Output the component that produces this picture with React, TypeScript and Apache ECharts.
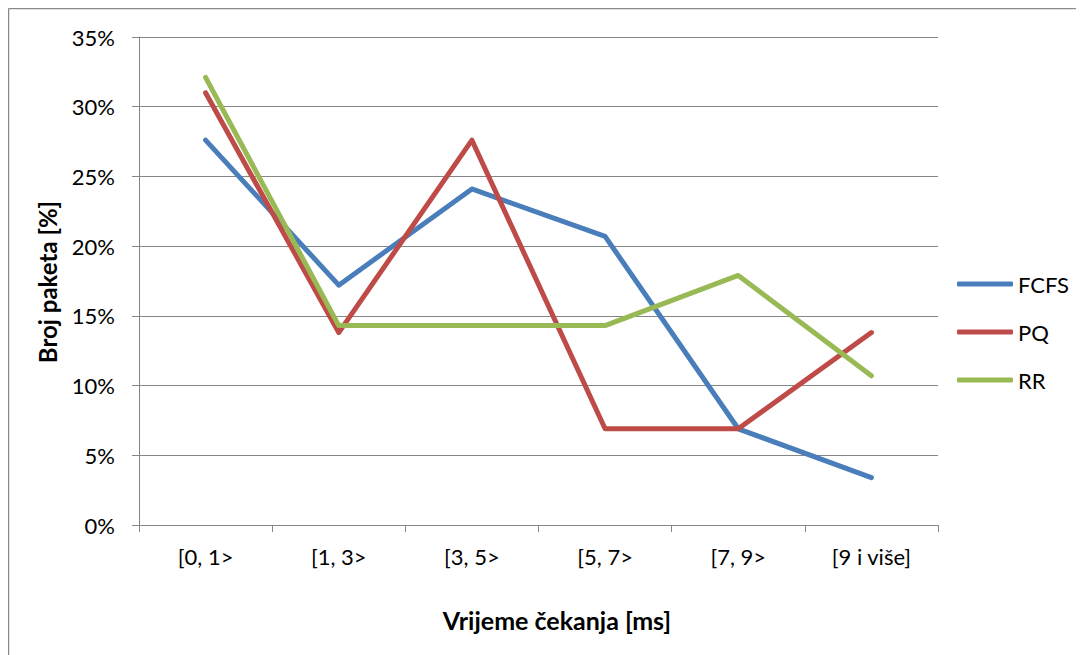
import React, { useEffect, useRef } from "react";
import * as echarts from "echarts";

const categories = ["[0, 1>", "[1, 3>", "[3, 5>", "[5, 7>", "[7, 9>", "[9 i više]"];
const fcfs = [27.6, 17.2, 24.1, 20.7, 6.9, 3.4];
const pq = [31.0, 13.8, 27.6, 6.9, 6.9, 13.8];
const rr = [32.1, 14.3, 14.3, 14.3, 17.9, 10.7];
const seriesNames = ["FCFS", "PQ", "RR"];
const colors = ["#4A7EBB", "#BE4B48", "#98B954"];
const xTitle = "Vrijeme čekanja [ms]";
const yTitle = "Broj paketa [%]";

const FONT = "Lato";
const GRAY = "#868686";

export default function App() {
  const ref = useRef<HTMLDivElement>(null);
  useEffect(() => {
    if (!ref.current) return;
    const chart = echarts.init(ref.current, null, { renderer: "svg" });
    const values = [fcfs, pq, rr];
    chart.setOption({
      animation: false,
      backgroundColor: "#ffffff",
      textStyle: { fontFamily: FONT },
      grid: { left: 131, top: 29, right: 146, bottom: 130 },
      legend: {
        orient: "vertical",
        left: 944,
        top: 260,
        icon: "roundRect",
        itemWidth: 56,
        itemHeight: 5,
        itemGap: 26,
        textStyle: { fontFamily: FONT, fontSize: 22, color: "#000" },
        data: seriesNames,
      },
      xAxis: {
        type: "category",
        data: categories,
        boundaryGap: true,
        axisLine: { show: true, lineStyle: { color: GRAY, width: 1 } },
        axisTick: { show: true, length: 7, lineStyle: { color: GRAY } },
        axisLabel: { fontFamily: FONT, fontSize: 22, color: "#000", margin: 20, interval: 0 },
        splitLine: { show: false },
      },
      yAxis: {
        type: "value",
        min: 0,
        max: 35,
        interval: 5,
        axisLine: { show: true, lineStyle: { color: GRAY, width: 1 } },
        axisTick: { show: true, length: 7, lineStyle: { color: GRAY } },
        axisLabel: { fontFamily: FONT, fontSize: 22, color: "#000", margin: 24, formatter: "{value}%" },
        splitLine: { show: true, lineStyle: { color: GRAY, width: 1 } },
      },
      series: seriesNames.map((name, i) => ({
        name,
        type: "line",
        data: values[i],
        symbol: "none",
        showSymbol: false,
        color: colors[i],
        lineStyle: { width: 5, color: colors[i], cap: "round", join: "round" },
        itemStyle: { color: colors[i] },
      })),
      graphic: [
        {
          type: "line",
          shape: { x1: 0.5, y1: 0.5, x2: 1076, y2: 0.5 },
          style: { stroke: "#8a8a8a", lineWidth: 1.5 },
        },
        {
          type: "line",
          shape: { x1: 0.5, y1: 0.5, x2: 0.5, y2: 647 },
          style: { stroke: "#8a8a8a", lineWidth: 1.5 },
        },
        {
          type: "text",
          x: 549,
          y: 612,
          style: {
            text: xTitle,
            fontFamily: FONT,
            fontSize: 25,
            fontWeight: "bold",
            fill: "#000",
            align: "center",
            verticalAlign: "middle",
          },
        },
        {
          type: "text",
          x: 39,
          y: 274,
          rotation: Math.PI / 2,
          style: {
            text: yTitle,
            fontFamily: FONT,
            fontSize: 24,
            fontWeight: "bold",
            fill: "#000",
            align: "center",
            verticalAlign: "middle",
          },
        },
      ],
    });
    return () => chart.dispose();
  }, []);
  return <div ref={ref} style={{ width: 1076, height: 647 }} />;
}
